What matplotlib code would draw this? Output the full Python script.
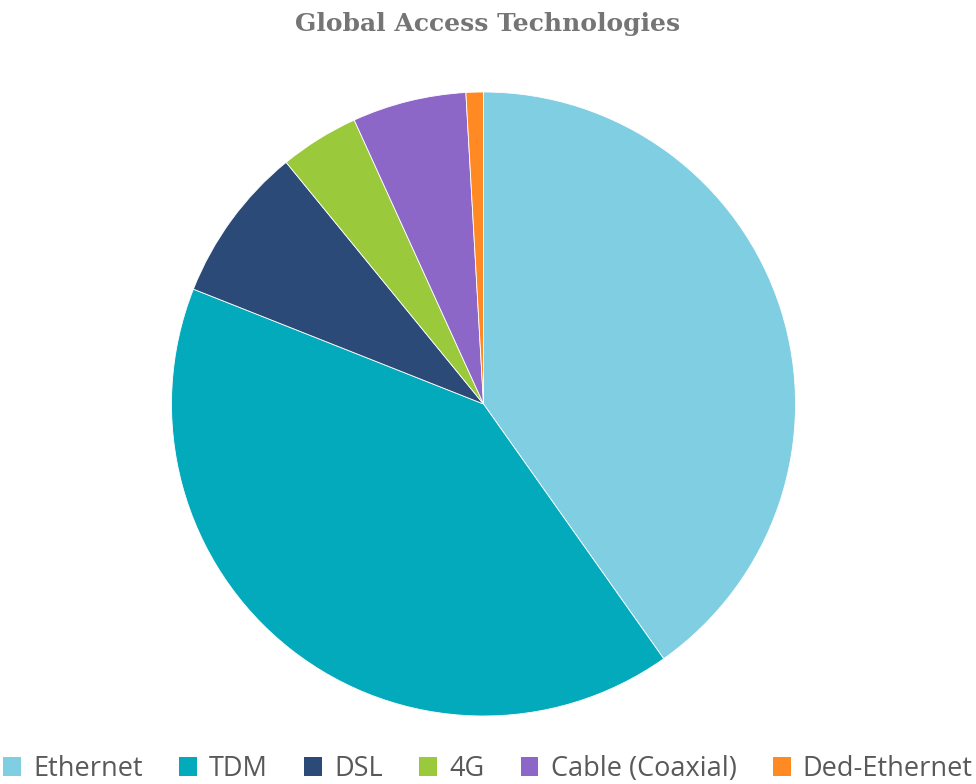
import matplotlib.pyplot as plt
from matplotlib.patches import Patch

labels = ["Ethernet", "TDM", "DSL", "4G", "Cable (Coaxial)", "Ded-Ethernet"]
shares = [40.2, 40.8, 8.1, 4.1, 5.9, 0.9]
colors = ["#7fcee2", "#03aabb", "#2b4a78", "#9aca3c", "#8d67c7", "#ff8a24"]

W, H = 976, 784
fig = plt.figure(figsize=(W / 100, H / 100), dpi=100)

# pie placed by pixel centre / radius
cx, cy, r = 483.5, 404, 312
ax = fig.add_axes([(cx - r) / W, 1 - (cy + r) / H, 2 * r / W, 2 * r / H])
ax.pie(shares, colors=colors, startangle=90, counterclock=False, radius=1,
       wedgeprops=dict(linewidth=0.6, edgecolor="white"))
ax.set_xlim(-1, 1)
ax.set_ylim(-1, 1)
ax.set_aspect("equal")
ax.axis("off")

fig.text(0.5, 1 - 24 / H, "Global Access Technologies", ha="center", va="center",
         fontsize=18, fontweight="bold", family="DejaVu Serif", color="#757575")

handles = [Patch(facecolor=c, edgecolor="none") for c in colors]
fig.legend(handles, labels, loc="center", bbox_to_anchor=(0.5, 1 - 769 / H),
           ncol=6, frameon=False, handlelength=0.65, handleheight=0.65,
           handletextpad=0.45, columnspacing=1.35, borderpad=0, borderaxespad=0,
           prop=dict(family="Open Sans", size=19.5), labelcolor="#595959")

fig.savefig("out.png", dpi=100)
